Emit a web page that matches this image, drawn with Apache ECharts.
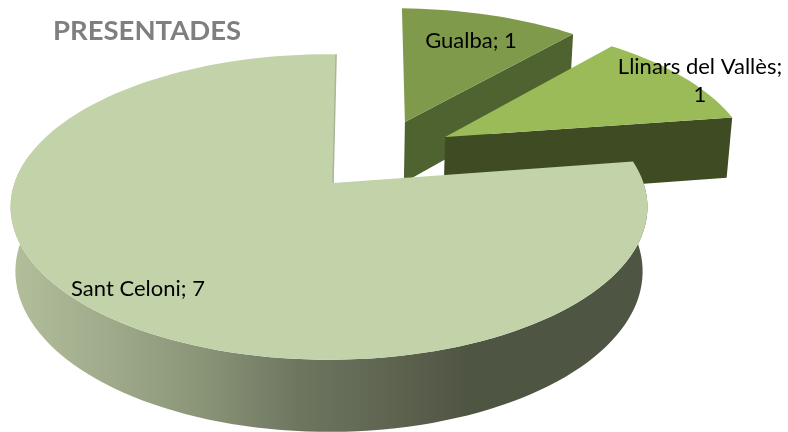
<!DOCTYPE html>
<html>
<head>
<meta charset="utf-8">
<style>
  html, body { margin: 0; background: #fff; }
  #chart { width: 788px; height: 432px; }
</style>
<script src="https://cdn.jsdelivr.net/npm/echarts@6/dist/echarts.min.js"></script>
</head>
<body>
<div id="chart"></div>
<script>
const categories = ['Gualba', 'Llinars del Vallès', 'Sant Celoni']
const values = [1, 1, 7]
const titleText = 'PRESENTADES'

// fake 3D pie: unit circle on a tilted plane, projected by hand
const view = { cx: 329, cy: 183, rx: 314.5, ry: 149, tilt: 0.157, height: 64.5, shrink: 0.015 }
const startAngle = 1.5
const explode = [[0.258, -0.437], [0.388, -0.324], [0, 0]]
const apexShift = [0, 0, 4]
const topColors = ['#7f9a4b', '#9bbb59', '#c3d3a9']
const faceColors = ['#4f6330', '#3f4c23', null]
const labelPos = [[471, 41], [700, 81], [138, 289]]
const total = values.reduce((a, b) => a + b, 0)

const project = (u, v, z) => {
  const w = 1 - view.tilt * v + view.shrink * z
  return [view.cx + view.rx * u / w, view.cy + (view.ry * v + view.height * z) / w]
}

const sideGradient = () => new echarts.graphic.LinearGradient(0, 0, 1, 0, [
  { offset: 0, color: '#b3be9b' },
  { offset: 0.15, color: '#a0ab8c' },
  { offset: 0.3, color: '#8a9578' },
  { offset: 0.45, color: '#6e7660' },
  { offset: 0.62, color: '#5b614d' },
  { offset: 0.72, color: '#4f5543' },
  { offset: 1, color: '#4f5543' }
])

const renderSlice = (params, api) => {
  const idx = params.dataIndex
  const value = api.value(0)
  const before = values.slice(0, idx).reduce((a, b) => a + b, 0)
  const a0 = startAngle + before / total * 360
  const a1 = a0 + value / total * 360
  const [du, dv] = explode[idx]

  const rim = []
  const steps = Math.ceil((a1 - a0) / 2)
  for (let i = 0; i <= steps; i++) {
    const t = (a0 + (a1 - a0) * i / steps) * Math.PI / 180
    rim.push([du + Math.sin(t), dv - Math.cos(t)])
  }
  const toTop = p => project(p[0], p[1], 0)
  const toBottom = p => project(p[0], p[1], 1)
  const apex = toTop([du, dv])
  apex[0] += apexShift[idx]
  const children = []

  if (faceColors[idx]) {
    // cut face that looks at the viewer
    const end = rim[rim.length - 1]
    children.push({
      type: 'polygon',
      shape: { points: [apex, toTop(end), toBottom(end), toBottom([du, dv])] },
      style: { fill: faceColors[idx] }
    })
  } else {
    // outer wall, only the front part of the rim
    const front = rim.filter(p => p[1] > -0.2)
    children.push({
      type: 'polygon',
      shape: { points: front.map(toTop).concat(front.map(toBottom).reverse()) },
      style: { fill: sideGradient() }
    })
  }

  children.push({
    type: 'polygon',
    shape: { points: [apex].concat(rim.map(toTop)) },
    style: { fill: topColors[idx] }
  })

  if (!faceColors[idx]) {
    const last = toTop(rim[rim.length - 1])
    children.push({
      type: 'line',
      shape: { x1: last[0], y1: last[1], x2: apex[0], y2: apex[1] },
      style: { stroke: '#aab696', lineWidth: 1.5 }
    })
  }
  return { type: 'group', children }
}

const renderLabel = (params, api) => {
  const idx = params.dataIndex
  const sep = idx === 1 ? ';\n' : '; '
  return {
    type: 'text',
    x: labelPos[idx][0],
    y: labelPos[idx][1],
    style: {
      text: categories[idx] + sep + api.value(0),
      fill: '#000',
      font: '22px Lato',
      lineHeight: 28,
      align: 'center',
      verticalAlign: 'middle'
    }
  }
}

const chart = echarts.init(document.getElementById('chart'))
chart.setOption({
  animation: false,
  title: {
    text: titleText,
    left: 48,
    top: 12,
    textStyle: { color: '#7f7f7f', fontFamily: 'Lato', fontWeight: 'bold', fontSize: 27.5 }
  },
  series: [
    { type: 'custom', coordinateSystem: 'none', renderItem: renderSlice, data: values.map(v => [v]), silent: true },
    { type: 'custom', coordinateSystem: 'none', renderItem: renderLabel, data: values.map(v => [v]), silent: true, z: 5 }
  ]
})
</script>
</body>
</html>
